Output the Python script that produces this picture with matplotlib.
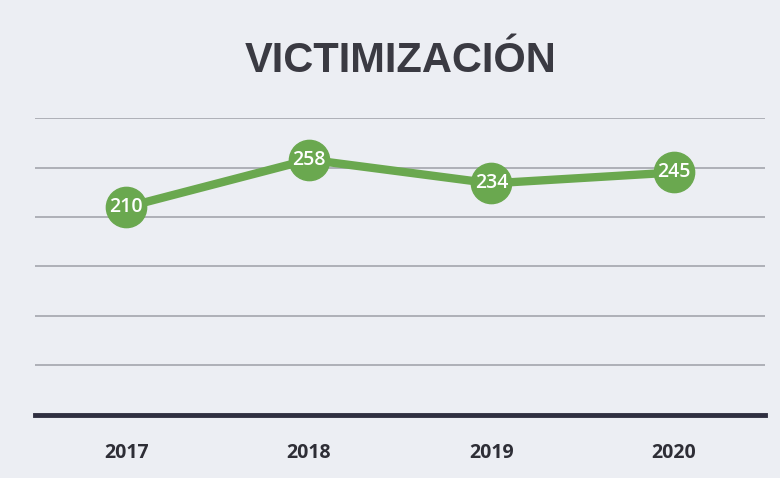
import matplotlib
matplotlib.use("Agg")
import matplotlib.pyplot as plt

# data
years = ["2017", "2018", "2019", "2020"]
values = [210, 258, 234, 245]
y_ticks = [0, 50, 100, 150, 200, 250, 300]

GREEN = "#6aa84f"
BG = "#eceef3"

fig = plt.figure(figsize=(7.8, 4.78), dpi=100, facecolor=BG)
ax = fig.add_axes([0.045, 0.132, 0.936, 0.621], facecolor=BG)

x = range(len(years))
ax.plot(x, values, "-", color=GREEN, lw=6, zorder=3, solid_capstyle="round")
ax.plot(x, values, "o", color=GREEN, ms=29, zorder=4)
for xi, v in zip(x, values):
    ax.text(xi, v, str(v), ha="center", va="center", color="white",
            fontsize=14, fontfamily="Open Sans", fontweight="semibold", zorder=5)

ax.set_xlim(-0.5, len(years) - 0.5)
ax.set_ylim(0, 300)
ax.set_yticks(y_ticks)
ax.yaxis.grid(True, color="#a3a5ad", lw=1.2)
ax.set_axisbelow(True)
ax.tick_params(axis="y", left=False, labelleft=False)
ax.tick_params(axis="x", length=0, pad=20)
ax.set_xticks(list(x))
ax.set_xticklabels(years, fontsize=14, fontweight="bold", color="#2e2e36",
                   fontfamily="Open Sans")
for side in ["top", "right", "left"]:
    ax.spines[side].set_visible(False)
ax.spines["bottom"].set_color("#2f2f40")
ax.spines["bottom"].set_linewidth(3.5)

fig.text(0.514, 0.872, "VICTIMIZACIÓN", ha="center", va="center",
         fontsize=30, fontweight="bold", color="#3a3a42",
         fontfamily=["Liberation Sans", "DejaVu Sans"])

fig.savefig("out.png", dpi=100, facecolor=BG)
